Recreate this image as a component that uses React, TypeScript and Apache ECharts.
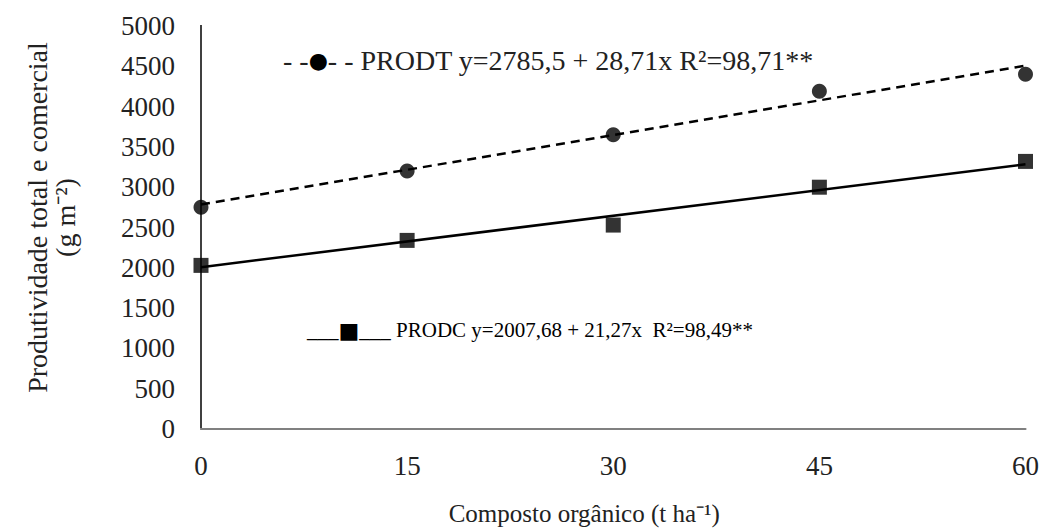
import React, { useEffect, useRef } from "react";
import * as echarts from "echarts";

const xValues = [0, 15, 30, 45, 60];
const prodT = [2750, 3200, 3650, 4190, 4400];
const prodC = [2030, 2340, 2530, 3000, 3320];
const trendX = [0, 60];
const trendT = [2785.5, 4508.1];
const trendC = [2007.68, 3283.88];
const legendT = ["- -", "●", "- - PRODT y=2785,5 + 28,71x R²=98,71**"];
const legendC = ["___", "■", "___ PRODC y=2007,68 + 21,27x  R²=98,49**"];
const xName = "Composto orgânico (t ha⁻¹)";
const yName = "Produtividade total e comercial\n(g m⁻²)";

const FONT = "Liberation Serif";

export default function App() {
  const ref = useRef<HTMLDivElement>(null);
  useEffect(() => {
    if (!ref.current) return;
    const chart = echarts.init(ref.current, null, { renderer: "svg" });
    const pair = (xs: number[], ys: number[]) => xs.map((x, i) => [x, ys[i]]);
    chart.setOption({
      animation: false,
      backgroundColor: "#fff",
      grid: { left: 201, right: 16, top: 26, bottom: 96, containLabel: false },
      xAxis: [
        {
          type: "value",
          min: 0,
          max: 60,
          interval: 15,
          position: "bottom",
          axisLine: { show: true, lineStyle: { color: "#d9d9d9", width: 2 } },
          axisTick: { show: false },
          splitLine: { show: false },
          axisLabel: { fontFamily: FONT, fontSize: 27, color: "#222", margin: 23 },
          name: xName,
          nameLocation: "middle",
          nameGap: 72,
          nameTextStyle: { fontFamily: FONT, fontSize: 25, color: "#222", padding: [0, 58, 0, 0] },
        },
        {
          type: "value",
          min: 0,
          max: 60,
          position: "top",
          axisLine: { show: true, lineStyle: { color: "#808080", width: 2 } },
          axisTick: { show: false },
          axisLabel: { show: false },
          splitLine: { show: false },
        },
      ],
      yAxis: [
        {
          type: "value",
          min: 0,
          max: 5000,
          interval: 500,
          position: "left",
          axisLine: { show: true, lineStyle: { color: "#000", width: 2 } },
          axisTick: { show: false },
          splitLine: { show: false },
          axisLabel: {
            fontFamily: FONT,
            fontSize: 27,
            color: "#222",
            margin: 26,
            formatter: (v: number) => String(v),
          },
          name: yName,
          nameLocation: "middle",
          nameRotate: 90,
          nameGap: 122,
          nameTextStyle: {
            fontFamily: FONT,
            fontSize: 28,
            color: "#222",
            lineHeight: 28,
            align: "center",
            padding: [0, 0, 0, 20],
          },
        },
        {
          type: "value",
          min: 0,
          max: 5000,
          position: "right",
          axisLine: { show: true, lineStyle: { color: "#404040", width: 2 } },
          axisTick: { show: false },
          axisLabel: { show: false },
          splitLine: { show: false },
        },
      ],
      series: [
        {
          name: "PRODT trend",
          type: "line",
          data: pair(trendX, trendT),
          symbol: "none",
          lineStyle: { color: "#000", width: 2.5, type: [9, 6] },
          z: 2,
        },
        {
          name: "PRODC trend",
          type: "line",
          data: pair(trendX, trendC),
          symbol: "none",
          lineStyle: { color: "#000", width: 2.5, type: "solid" },
          z: 2,
        },
        {
          name: "PRODT",
          type: "scatter",
          data: pair(xValues, prodT),
          symbol: "circle",
          symbolSize: 15,
          itemStyle: { color: "#000" },
          z: 3,
        },
        {
          name: "PRODC",
          type: "scatter",
          data: pair(xValues, prodC),
          symbol: "rect",
          symbolSize: 15,
          itemStyle: { color: "#000" },
          z: 3,
        },
      ],
      graphic: [
        {
          type: "text",
          left: 283,
          top: 46,
          style: {
            text: `{a|${legendT[0]}}{b|${legendT[1]}}{a|${legendT[2]}}`,
            rich: {
              a: { fontFamily: FONT, fontSize: 28, fill: "#222", color: "#222" },
              b: { fontFamily: "DejaVu Sans", fontSize: 22, color: "#000" },
            },
          },
        },
        {
          type: "text",
          left: 307,
          top: 319,
          style: {
            text: `{a|${legendC[0]}}{b|${legendC[1]}}{a|${legendC[2]}}`,
            rich: {
              a: { fontFamily: FONT, fontSize: 21, color: "#222" },
              b: { fontFamily: "DejaVu Sans", fontSize: 22, color: "#000" },
            },
          },
        },
      ],
    });
    return () => chart.dispose();
  }, []);
  return <div ref={ref} style={{ width: 1042, height: 531, position: "absolute", left: 0, top: 0 }} />;
}
